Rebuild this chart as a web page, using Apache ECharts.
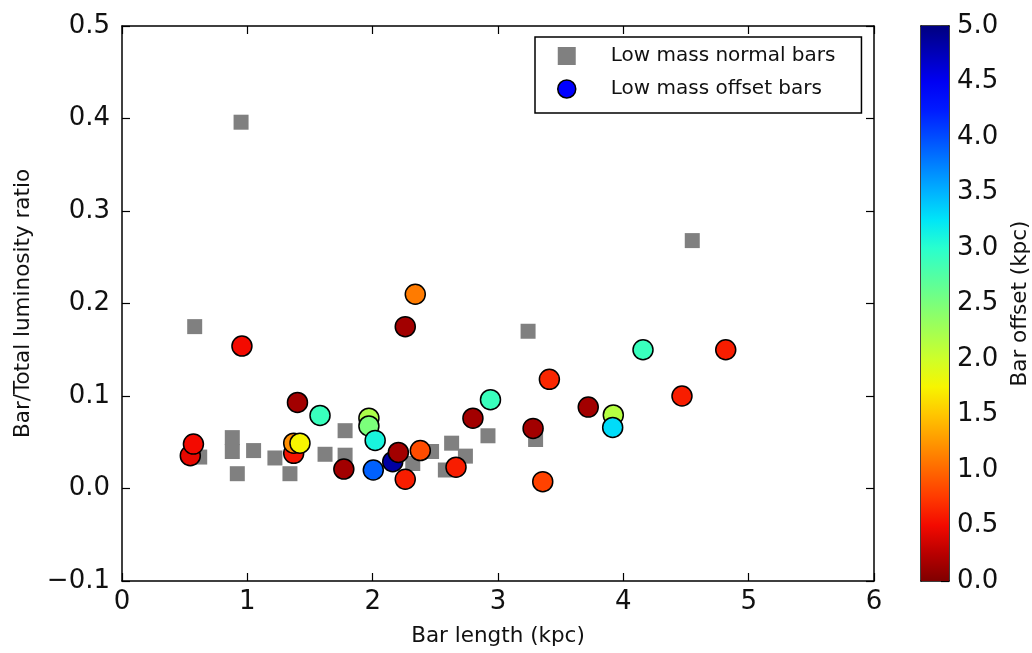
<!DOCTYPE html>
<html>
<head>
<meta charset="utf-8">
<title>Bar luminosity ratio vs bar length</title>
<script src="https://cdn.jsdelivr.net/npm/echarts@6/dist/echarts.min.js"></script>
<style>
  html, body { margin: 0; padding: 0; background: #fff; }
  #chart { width: 1032px; height: 653px; }
</style>
</head>
<body>
<div id="chart"></div>
<script>
// Low mass galaxies with normal bars (grey squares)
const normalLength = [0.95, 0.58, 1.78, 0.62, 0.88, 0.88, 1.05, 1.22, 0.92, 1.34, 1.62, 1.78, 3.24, 3.30, 2.92, 2.32, 2.47, 2.63, 2.74, 2.58, 4.55];
const normalRatio  = [0.396, 0.175, 0.0625, 0.034, 0.055, 0.040, 0.041, 0.033, 0.016, 0.016, 0.037, 0.036, 0.170, 0.053, 0.057, 0.027, 0.040, 0.049, 0.035, 0.020, 0.268];

// Low mass galaxies with offset bars (circles coloured by offset)
const offsetLength = [0.957, 1.40, 1.58, 1.97, 1.97, 2.02, 0.545, 0.57, 1.37, 1.37, 1.42, 1.77, 2.005, 2.34, 2.26, 3.41, 3.72, 2.94, 2.80, 3.28, 2.16, 2.205, 2.38, 2.26, 2.665, 3.357, 4.157, 4.817, 4.468, 3.92, 3.915];
const offsetRatio  = [0.154, 0.093, 0.079, 0.076, 0.0676, 0.052, 0.0355, 0.048, 0.038, 0.049, 0.049, 0.021, 0.020, 0.210, 0.175, 0.118, 0.088, 0.096, 0.076, 0.065, 0.029, 0.039, 0.041, 0.010, 0.023, 0.0074, 0.150, 0.150, 0.100, 0.0795, 0.066];
const offsetKpc    = [0.5, 0.15, 2.9, 2.2, 2.5, 3.1, 0.45, 0.5, 0.55, 1.2, 1.75, 0.15, 3.9, 1.1, 0.15, 0.65, 0.15, 2.9, 0.15, 0.15, 4.85, 0.15, 0.85, 0.6, 0.6, 0.8, 2.9, 0.6, 0.6, 2.15, 3.3];

// Axis ticks
const xTicks = { min: 0, max: 6, step: 1 };
const yTicks = { min: -0.1, max: 0.5, step: 0.1 };
const cTicks = { min: 0, max: 5, step: 0.5 };

// Jet colour ramp sampled every 0.25 kpc, from offset 0 (dark red) to offset 5 (dark blue)
const jet = ['#800000', '#b90000', '#f30a00', '#ff3900', '#ff6800', '#ff9700', '#ffc600', '#f7f500', '#ceff29', '#a4ff52', '#7bff7b',
             '#52ffa4', '#29ffce', '#00e6f7', '#00b3ff', '#0080ff', '#004cff', '#001aff', '#0000f3', '#0000b9', '#000080'];

const FONT = 'DejaVu Sans';
const TXT = '#111';

function fmt(v) {
  const s = Math.abs(v).toFixed(1);
  return v < -1e-9 ? '\u2212' + s : s;
}

const normalData = normalLength.map((x, i) => [x, normalRatio[i]]);
const offsetData = offsetLength.map((x, i) => [x, offsetRatio[i], offsetKpc[i]]);

// colour bar gradient: top of the bar is offset = max
const barStops = jet.slice().reverse().map((c, i, a) => ({ offset: i / (a.length - 1), color: c }));

const frameLine = { show: true, onZero: false, lineStyle: { color: '#000', width: 1.5 } };
const inTick = { show: true, inside: true, length: 8, lineStyle: { color: '#000', width: 1.2 } };
const tickLabel = { fontFamily: FONT, fontSize: 26, color: TXT };
const titleText = { fontFamily: FONT, fontSize: 21.5, color: TXT };

const chart = echarts.init(document.getElementById('chart'), null, { renderer: 'canvas' });

chart.setOption({
  animation: false,
  backgroundColor: '#fff',
  grid: [
    { left: 122, top: 26, width: 752, height: 555 },
    { left: 921, top: 26, width: 28, height: 555 }
  ],
  xAxis: [
    {
      gridIndex: 0, type: 'value', position: 'bottom',
      min: xTicks.min, max: xTicks.max, interval: xTicks.step,
      axisLine: frameLine, axisTick: inTick, splitLine: { show: false },
      axisLabel: Object.assign({ margin: 8, formatter: v => String(Math.round(v)) }, tickLabel),
      name: 'Bar length (kpc)', nameLocation: 'middle', nameGap: 44,
      nameTextStyle: titleText
    },
    {
      gridIndex: 0, type: 'value', position: 'top',
      min: xTicks.min, max: xTicks.max, interval: xTicks.step,
      axisLine: frameLine, axisTick: inTick, axisLabel: { show: false }, splitLine: { show: false }
    },
    {
      gridIndex: 1, type: 'category', position: 'bottom', data: ['offset'],
      axisLine: frameLine, axisTick: { show: false }, axisLabel: { show: false }
    },
    {
      gridIndex: 1, type: 'category', position: 'top', data: ['offset'],
      axisLine: frameLine, axisTick: { show: false }, axisLabel: { show: false }
    }
  ],
  yAxis: [
    {
      gridIndex: 0, type: 'value', position: 'left',
      min: yTicks.min, max: yTicks.max, interval: yTicks.step,
      axisLine: frameLine, axisTick: inTick, splitLine: { show: false },
      axisLabel: Object.assign({ margin: 12, formatter: fmt }, tickLabel),
      name: 'Bar/Total luminosity ratio', nameLocation: 'middle', nameGap: 88, nameRotate: 90,
      nameTextStyle: titleText
    },
    {
      gridIndex: 0, type: 'value', position: 'right',
      min: yTicks.min, max: yTicks.max, interval: yTicks.step,
      axisLine: frameLine, axisTick: inTick, axisLabel: { show: false }, splitLine: { show: false }
    },
    {
      gridIndex: 1, type: 'value', position: 'left',
      min: cTicks.min, max: cTicks.max, interval: cTicks.step,
      axisLine: frameLine, axisTick: { show: false }, axisLabel: { show: false }, splitLine: { show: false }
    },
    {
      gridIndex: 1, type: 'value', position: 'right',
      min: cTicks.min, max: cTicks.max, interval: cTicks.step,
      axisLine: frameLine, axisTick: inTick, splitLine: { show: false },
      axisLabel: Object.assign({ margin: 8, formatter: v => v.toFixed(1) }, tickLabel),
      name: 'Bar offset (kpc)', nameLocation: 'middle', nameGap: 60, nameRotate: 90,
      nameTextStyle: titleText
    }
  ],
  visualMap: {
    type: 'continuous', show: false, seriesIndex: 1, dimension: 2,
    min: cTicks.min, max: cTicks.max,
    inRange: { color: jet }
  },
  legend: {
    orient: 'vertical', left: 535, top: 37,
    padding: [9, 26, 14, 22], itemGap: 13,
    itemWidth: 18, itemHeight: 18,
    backgroundColor: '#fff', borderColor: '#000', borderWidth: 1.5, borderRadius: 0,
    textStyle: { fontFamily: FONT, fontSize: 20, color: TXT, padding: [0, 0, 0, 30] },
    data: [
      { name: 'Low mass normal bars', icon: 'path://M2,2L16,2L16,16L2,16Z', itemStyle: { color: '#808080', borderWidth: 0 } },
      { name: 'Low mass offset bars', icon: 'circle', itemStyle: { color: '#0000ff', borderColor: '#000', borderWidth: 1.5 } }
    ]
  },
  series: [
    {
      name: 'Low mass normal bars', type: 'scatter', xAxisIndex: 0, yAxisIndex: 0,
      symbol: 'rect', symbolSize: 15,
      itemStyle: { color: '#808080', opacity: 1 },
      data: normalData, z: 2
    },
    {
      name: 'Low mass offset bars', type: 'scatter', xAxisIndex: 0, yAxisIndex: 0,
      symbol: 'circle', symbolSize: 20,
      itemStyle: { color: '#0000ff', borderColor: '#000', borderWidth: 1.5, opacity: 1 },
      data: offsetData, z: 3
    },
    {
      name: 'colour bar', type: 'bar', xAxisIndex: 2, yAxisIndex: 2,
      barWidth: '100%', silent: true,
      itemStyle: { color: { type: 'linear', x: 0, y: 0, x2: 0, y2: 1, colorStops: barStops } },
      data: [cTicks.max]
    }
  ]
});
</script>
</body>
</html>
